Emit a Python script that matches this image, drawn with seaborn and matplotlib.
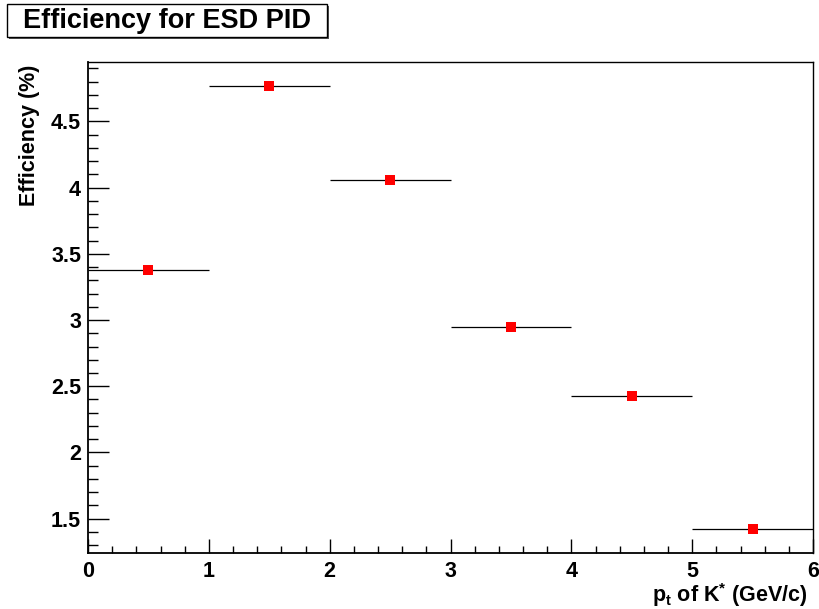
import matplotlib
matplotlib.use("Agg")
import matplotlib.pyplot as plt
import seaborn as sns
import pandas as pd
from matplotlib.patches import Rectangle
from matplotlib.ticker import MultipleLocator

pt_center = [0.5, 1.5, 2.5, 3.5, 4.5, 5.5]
pt_halfwidth = [0.5, 0.5, 0.5, 0.5, 0.5, 0.5]
efficiency = [3.374, 4.764, 4.06, 2.947, 2.425, 1.425]

df = pd.DataFrame({"pt": pt_center, "eff": efficiency, "xerr": pt_halfwidth})

sns.set_style("ticks", {"text.color": "black", "axes.labelcolor": "black",
                        "xtick.color": "black", "ytick.color": "black",
                        "axes.edgecolor": "black"})
plt.rcParams['font.family'] = ['Liberation Sans', 'DejaVu Sans']
plt.rcParams['font.weight'] = 'bold'
plt.rcParams['mathtext.fontset'] = 'custom'
plt.rcParams['mathtext.rm'] = 'Liberation Sans:bold'
plt.rcParams['mathtext.it'] = 'Liberation Sans:bold'
plt.rcParams['mathtext.bf'] = 'Liberation Sans:bold'

fig = plt.figure(figsize=(8.19, 6.09), dpi=100)
ax = fig.add_axes([88/819, 1-553/609, (813-88)/819, (553-62)/609])

ax.errorbar(df["pt"], df["eff"], xerr=df["xerr"], fmt='none', ecolor='black',
            elinewidth=0.9, capsize=0, zorder=2)
sns.scatterplot(data=df, x="pt", y="eff", marker='s', s=55, color='#ff0000',
                edgecolor='#ff0000', linewidth=0, ax=ax, zorder=3)

ax.set_xlim(0, 6)
ax.set_ylim(1.241, 4.948)
ax.xaxis.set_major_locator(MultipleLocator(1))
ax.xaxis.set_minor_locator(MultipleLocator(0.2))
ax.yaxis.set_major_locator(MultipleLocator(0.5))
ax.yaxis.set_minor_locator(MultipleLocator(0.1))
ax.yaxis.set_major_formatter(matplotlib.ticker.FuncFormatter(lambda v, p: ('%g' % v)))

ax.tick_params(axis='x', which='major', direction='in', length=10, width=1, pad=6,
               labelsize=15.5, top=False, colors='black')
ax.tick_params(axis='x', which='minor', direction='in', length=5, width=1, top=False,
               colors='black')
ax.tick_params(axis='y', which='major', direction='in', length=15, width=1, pad=5,
               labelsize=15.5, right=False, colors='black')
ax.tick_params(axis='y', which='minor', direction='in', length=7.5, width=1, right=False,
               colors='black')
for lab in ax.get_xticklabels() + ax.get_yticklabels():
    lab.set_fontweight('bold')

for side in ['left', 'bottom']:
    ax.spines[side].set_linewidth(1.3)
    ax.spines[side].set_color('black')
for side in ['top', 'right']:
    ax.spines[side].set_visible(True)
    ax.spines[side].set_linewidth(1.0)
    ax.spines[side].set_color('black')

ax.set_xlabel(r"$\mathregular{p_{t}}$ of K$^{*}$ (GeV/c)", fontsize=15.5, fontweight='bold',
              ha='right', va='baseline', color='black')
ax.xaxis.set_label_coords(0.993, -0.1)
ax.set_ylabel("Efficiency (%)", fontsize=15.5, fontweight='bold', ha='right', va='center',
              color='black')
ax.yaxis.set_label_coords(-0.08, 0.994)

# title box with shadow
x0, y0, w, h = 7/819, 1-37/609, (327-7)/819, (37-4)/609
fig.patches.append(Rectangle((x0+2/819, y0-2/609), w, h, transform=fig.transFigure,
                             facecolor='#555555', edgecolor='none', zorder=1))
fig.patches.append(Rectangle((x0, y0), w, h, transform=fig.transFigure,
                             facecolor='white', edgecolor='black', linewidth=1, zorder=2))
fig.text(x0 + w/2, y0 + h/2, "Efficiency for ESD PID", ha='center', va='center',
         fontsize=19.5, fontweight='bold', color='black', zorder=3)

fig.savefig("out.png", dpi=100)
